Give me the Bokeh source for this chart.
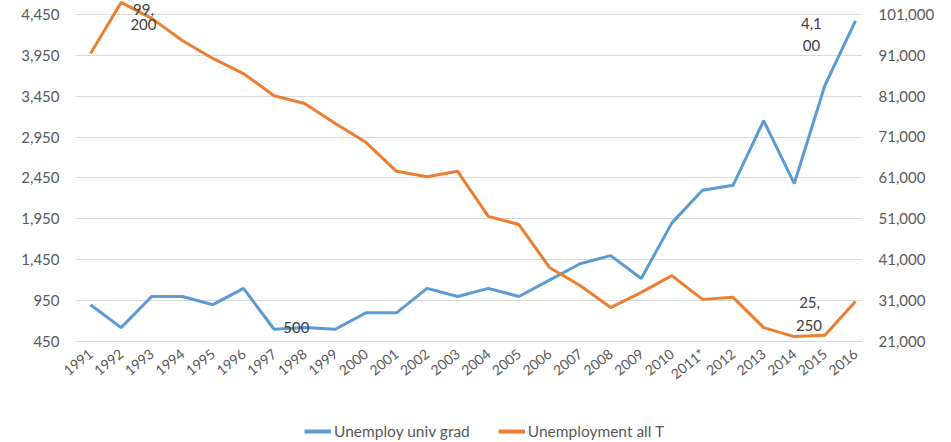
from bokeh.plotting import figure
from bokeh.layouts import column
from bokeh.models import (ColumnDataSource, LinearAxis, Range1d, FixedTicker,
                          NumeralTickFormatter, Legend, LegendItem)
from bokeh.embed import file_html
from bokeh.resources import INLINE

years = ["1991", "1992", "1993", "1994", "1995", "1996", "1997", "1998", "1999",
         "2000", "2001", "2002", "2003", "2004", "2005", "2006", "2007", "2008",
         "2009", "2010", "2011*", "2012", "2013", "2014", "2015", "2016"]
univ_grad = [900, 620, 1000, 1000, 900, 1100, 600, 620, 600, 800, 800, 1100, 1000,
             1100, 1000, 1200, 1400, 1500, 1220, 1900, 2300, 2360, 3150, 2380,
             3580, 4370]
all_unemp = [91400, 103900, 100000, 94600, 90200, 86500, 81100, 79200, 74300,
             69700, 62600, 61300, 62600, 51600, 49600, 39100, 34700, 29300,
             33000, 37100, 31300, 31800, 24400, 22200, 22500, 30800]
left_ticks = [450, 950, 1450, 1950, 2450, 2950, 3450, 3950, 4450]
right_ticks = [21000, 31000, 41000, 51000, 61000, 71000, 81000, 91000, 101000]

# data labels (wrapped as in the original, one text per line)
label_text = ["99,", "200", "4,1", "00", "500", "25,", "250"]
label_x = [1.73, 1.73, 23.56, 23.56, 6.73, 23.5, 23.48]
label_y = [4505, 4320, 4338, 4069, 621, 927, 646]

FONT = "Lato"
BLUE = "#5b9bd5"
ORANGE = "#ed7d31"
GRID = "#d9d9d9"
TXT = "#595959"

idx = list(range(len(years)))
src = ColumnDataSource(dict(x=idx, u=univ_grad, a=all_unemp))

p = figure(width=951, height=410, output_backend="svg", toolbar_location=None,
           x_range=Range1d(-0.49, 25.23), y_range=Range1d(450, 4619),
           min_border_left=75, min_border_right=89, min_border_top=0,
           min_border_bottom=69)
p.outline_line_color = None
p.extra_y_ranges = {"right": Range1d(21000, 104372)}

ly = p.yaxis[0]
ly.ticker = FixedTicker(ticks=left_ticks)
ly.formatter = NumeralTickFormatter(format="0,0")
ly.axis_line_color = None
ly.major_tick_line_color = None
ly.minor_tick_line_color = None
ly.major_label_text_font = FONT
ly.major_label_text_font_size = "15px"
ly.major_label_text_color = TXT
ly.major_label_standoff = 10

ry = LinearAxis(y_range_name="right", ticker=FixedTicker(ticks=right_ticks),
                formatter=NumeralTickFormatter(format="0,0"))
ry.axis_line_color = None
ry.major_tick_line_color = None
ry.minor_tick_line_color = None
ry.major_label_text_font = FONT
ry.major_label_text_font_size = "15px"
ry.major_label_text_color = TXT
ry.major_label_standoff = 10
p.add_layout(ry, "right")

xa = p.xaxis[0]
xa.ticker = FixedTicker(ticks=idx)
xa.major_label_overrides = {i: y for i, y in enumerate(years)}
xa.axis_line_color = GRID
xa.major_tick_line_color = None
xa.minor_tick_line_color = None
xa.major_label_orientation = 0.68
xa.major_label_text_font = FONT
xa.major_label_text_font_size = "14px"
xa.major_label_text_color = TXT
xa.major_label_standoff = 4

p.xgrid.grid_line_color = None
p.ygrid.ticker = FixedTicker(ticks=left_ticks)
p.ygrid.grid_line_color = GRID

r1 = p.line("x", "u", source=src, line_color=BLUE, line_width=3)
r2 = p.line("x", "a", source=src, line_color=ORANGE, line_width=3,
            y_range_name="right")

lsrc = ColumnDataSource(dict(x=label_x, y=label_y, t=label_text))
p.text("x", "y", text="t", source=lsrc, text_align="center",
       text_baseline="middle", text_font_size="15px", text_color="#404040",
       text_font={"value": FONT})

# legend strip below the chart (its frame is aligned with the chart frame)
q = figure(width=951, height=32, output_backend="svg", toolbar_location=None,
           x_range=Range1d(0, 1), y_range=Range1d(0, 1),
           x_axis_location=None, y_axis_location=None,
           min_border_left=0, min_border_right=0, min_border_top=0,
           min_border_bottom=0)
q.outline_line_color = None
q.grid.grid_line_color = None
e1 = q.line(x=[-5, -4], y=[-5, -5], line_color=BLUE, line_width=4)
e2 = q.line(x=[-5, -4], y=[-5, -5], line_color=ORANGE, line_width=4)
legend = Legend(items=[LegendItem(label="Unemploy univ grad", renderers=[e1]),
                       LegendItem(label="Unemployment all T", renderers=[e2])],
                orientation="horizontal", location=(229, 2),
                glyph_width=27, glyph_height=14, label_standoff=3, spacing=28,
                label_text_font=FONT, label_text_font_size="15.5px",
                label_text_color=TXT, border_line_color=None,
                background_fill_alpha=0, padding=0, margin=0)
q.add_layout(legend, "center")

layout = column(p, q, spacing=0)
open("out.html", "w").write(file_html(layout, INLINE))
